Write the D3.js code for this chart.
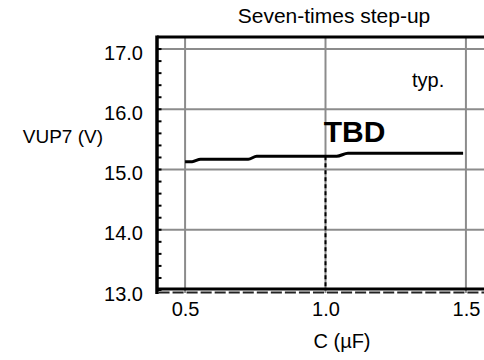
<!DOCTYPE html>
<html>
<head>
<meta charset="utf-8">
<script src="https://cdn.jsdelivr.net/npm/d3@7"></script>
<style>
  body { margin: 0; background: #fff; }
  text { font-family: "Liberation Sans", Arial, sans-serif; fill: #000; }
</style>
</head>
<body>
<div id="chart"></div>
<script>
// curve
var capC  = [0.50, 0.525, 0.555, 0.725, 0.755, 1.04, 1.08, 1.49];
var vup7  = [15.13, 15.13, 15.17, 15.17, 15.22, 15.22, 15.27, 15.27];

var xTicks = [0.5, 1.0, 1.5];
var yTicks = [13, 14, 15, 16, 17];
var markC = 1.0;

var width = 484, height = 360;

var svg = d3.select('#chart')
            .append('svg')
            .attr('width', width)
            .attr('height', height);

var x = d3.scaleLinear().domain([0.4, 1.6]).range([157, 494]);
var y = d3.scaleLinear().domain([13, 17.2]).range([290, 37]);

// grid
svg.selectAll('.vgrid')
   .data(xTicks)
   .enter()
   .append('line')
   .attr('x1', x).attr('x2', x)
   .attr('y1', y(17.2)).attr('y2', y(13) + 3)
   .attr('stroke', '#8c8c8c')
   .attr('stroke-width', 2);

svg.selectAll('.hgrid')
   .data(yTicks.slice(1))
   .enter()
   .append('line')
   .attr('x1', x(0.4)).attr('x2', width)
   .attr('y1', y).attr('y2', y)
   .attr('stroke', '#8c8c8c')
   .attr('stroke-width', 2);

// dashed marker at C = 1.0
var markV = vup7[4];
svg.append('line')
   .attr('x1', x(markC)).attr('x2', x(markC))
   .attr('y1', y(markV)).attr('y2', y(13))
   .attr('stroke', '#000')
   .attr('stroke-width', 2)
   .attr('stroke-dasharray', '4,3');

// frame
svg.append('line')
   .attr('x1', x(0.4)).attr('x2', width)
   .attr('y1', y(17.2)).attr('y2', y(17.2))
   .attr('stroke', '#000').attr('stroke-width', 3);
svg.append('line')
   .attr('x1', x(0.4)).attr('x2', width)
   .attr('y1', y(13) - 1).attr('y2', y(13) - 1)
   .attr('stroke', '#000').attr('stroke-width', 3);
svg.append('line')
   .attr('x1', x(0.4)).attr('x2', x(0.4))
   .attr('y1', y(17.2) - 1.5).attr('y2', y(13) + 4)
   .attr('stroke', '#000').attr('stroke-width', 3.5);

// minor ticks under the x axis, drawn as a broken line
var minorX = d3.range(0, 24).map(function(i) { return 0.4 + i * 0.05; });
svg.selectAll('.xminor')
   .data(minorX)
   .enter()
   .append('line')
   .attr('x1', function(d) { return x(d) + 1.5; })
   .attr('x2', function(d) { return x(d + 0.05) - 1.5; })
   .attr('y1', y(13) + 2.5).attr('y2', y(13) + 2.5)
   .attr('stroke', '#222')
   .attr('stroke-width', 2);

// minor ticks on the y axis
var minorY = d3.range(0, 22).map(function(i) { return 13 + i * 0.2; });
svg.selectAll('.yminor')
   .data(minorY)
   .enter()
   .append('line')
   .attr('x1', x(0.4)).attr('x2', x(0.4) + 4.5)
   .attr('y1', y).attr('y2', y)
   .attr('stroke', '#000')
   .attr('stroke-width', 2);

// axis labels
var yAxis = svg.append('g')
   .attr('transform', 'translate(' + x(0.4) + ',0)')
   .call(d3.axisLeft(y).tickValues(yTicks).tickFormat(d3.format('.1f'))
         .tickSize(0).tickPadding(14));
yAxis.select('.domain').remove();
yAxis.selectAll('text')
   .attr('dy', '0.5em')
   .style('font-size', '20px')
   .style('font-family', '"Liberation Sans", Arial, sans-serif');

var xAxis = svg.append('g')
   .attr('transform', 'translate(0,' + y(13) + ')')
   .call(d3.axisBottom(x).tickValues(xTicks).tickFormat(d3.format('.1f'))
         .tickSize(0).tickPadding(12));
xAxis.select('.domain').remove();
xAxis.selectAll('text')
   .style('font-size', '20px')
   .style('font-family', '"Liberation Sans", Arial, sans-serif');

// the curve
var line = d3.line()
   .x(function(d, i) { return x(capC[i]); })
   .y(function(d) { return y(d); })
   .curve(d3.curveMonotoneX);

svg.append('path')
   .datum(vup7)
   .attr('d', line)
   .attr('fill', 'none')
   .attr('stroke', '#000')
   .attr('stroke-width', 3);

// texts
svg.append('text')
   .attr('x', 334).attr('y', 23)
   .attr('text-anchor', 'middle')
   .style('font-size', '21px')
   .text('Seven-times step-up');

svg.append('text')
   .attr('x', 103).attr('y', 143)
   .attr('text-anchor', 'end')
   .style('font-size', '19px')
   .text('VUP7 (V)');

svg.append('text')
   .attr('x', 342).attr('y', 348)
   .attr('text-anchor', 'middle')
   .style('font-size', '20px')
   .text('C (µF)');

svg.append('text')
   .attr('x', 354.5).attr('y', 142)
   .attr('text-anchor', 'middle')
   .style('font-size', '30px')
   .style('font-weight', 'bold')
   .text('TBD');

svg.append('text')
   .attr('x', 412).attr('y', 87)
   .style('font-size', '20px')
   .text('typ.');
</script>
</body>
</html>
